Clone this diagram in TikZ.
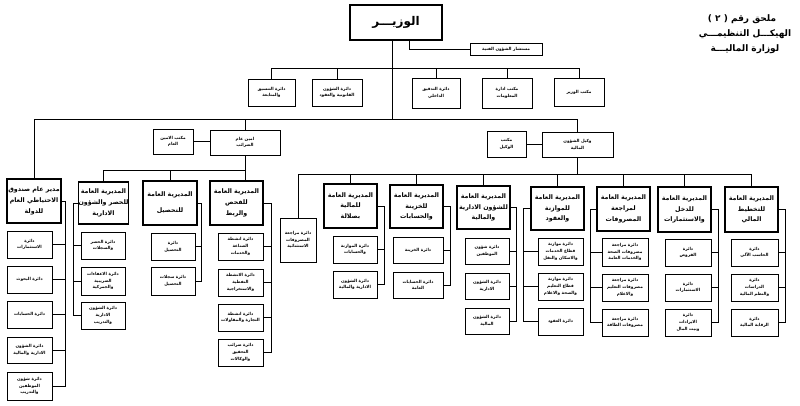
\documentclass[tikz,border=0pt]{standalone}
\usepackage{fontspec}
\newfontfamily\arabicfont[Script=Arabic]{DejaVu Sans}
\TeXXeTstate=1
\newcommand\AR[1]{\beginR#1\endR}
\newcommand\mkbox[7]{%
  \pgfmathsetmacro\bxcx{(#3+#5)/2}\pgfmathsetmacro\bxcy{(#4+#6)/2}%
  \pgfmathsetmacro\bxw{#5-#3}\pgfmathsetmacro\bxh{#6-#4}%
  \node[#1, minimum width=\bxw pt, minimum height=\bxh pt] (#2) at (\bxcx,\bxcy) {#7};}
\tikzset{
  hbox/.style={draw, line width=1.1pt, inner sep=0pt, align=center, font=\arabicfont\bfseries\fontsize{6.3}{10.8}\selectfont},
  sbox/.style={draw, line width=0.8pt, inner sep=0pt, align=center, font=\arabicfont\bfseries\fontsize{4.2}{6.6}\selectfont},
  mbox/.style={draw, line width=1.1pt, inner sep=0pt, align=center, font=\arabicfont\bfseries\fontsize{12}{14}\selectfont},
  conn/.style={line width=0.7pt},
  ttl/.style={inner sep=0pt, font=\arabicfont\bfseries\fontsize{9}{11}\selectfont}
}
\begin{document}
\begin{tikzpicture}[x=1pt,y=-1pt]
\useasboundingbox[fill=white] (0,0) rectangle (800,405);
% title
\node[ttl] (ti1) at (742,19) {\AR{ملحق رقم ( ٢ )}};
\node[ttl] (ti2) at (745,34) {\AR{الهيكـــل التنظيمـــي}};
\node[ttl] (ti3) at (745,49) {\AR{لوزارة الماليـــة}};
% minister
\mkbox{mbox}{m}{350}{5}{442}{40}{\AR{الوزيـــر}}
\mkbox{sbox}{adv}{470}{43}{542}{55}{\AR{مستشار الشؤون الفنية}}
% top row
\mkbox{sbox}{t1}{248}{79}{295}{106}{\AR{دائرة التنسيق}\\\AR{والمتابعة}}
\mkbox{sbox}{t2}{312}{79}{362}{106}{\AR{دائرة الشؤون}\\\AR{القانونية والعقود}}
\mkbox{sbox}{t3}{412}{78}{460}{108}{\AR{دائرة التدقيق}\\\AR{الداخلي}}
\mkbox{sbox}{t4}{482}{78}{532}{108}{\AR{مكتب ادارة}\\\AR{المعلومات}}
\mkbox{sbox}{t5}{554}{78}{604}{106}{\AR{مكتب الوزير}}
% second level
\mkbox{sbox}{sg}{210}{130}{280}{155}{\AR{امين عام}\\\AR{الضرائب}}
\mkbox{sbox}{sgo}{153}{129}{193}{154}{\AR{مكتب الامين}\\\AR{العام}}
\mkbox{sbox}{us}{542}{132}{613}{157}{\AR{وكيل الشؤون}\\\AR{المالية}}
\mkbox{sbox}{uso}{487}{131}{526}{157}{\AR{مكتب}\\\AR{الوكيل}}
% column A fund
\mkbox{hbox}{A0}{7}{179}{61}{223}{\AR{مدير عام صندوق}\\\AR{الاحتياطي العام}\\\AR{للدولة}}
\mkbox{sbox}{A1}{7}{231}{52}{258}{\AR{دائرة}\\\AR{الاستثمارات}}
\mkbox{sbox}{A2}{7}{266}{52}{293}{\AR{دائرة البحوث}}
\mkbox{sbox}{A3}{7}{301}{52}{328}{\AR{دائرة الحسابات}}
\mkbox{sbox}{A4}{7}{337}{52}{363}{\AR{دائرة الشؤون}\\\AR{الادارية والمالية}}
\mkbox{sbox}{A5}{7}{372}{52}{400}{\AR{دائرة شؤون}\\\AR{الموظفين}\\\AR{والتدريب}}
% column B
\mkbox{hbox}{B0}{82}{182}{125}{224}{\AR{المديرية العامة}\\\AR{للحصر والشؤون}\\\AR{الادارية}}
\mkbox{sbox}{B1}{81}{232}{125}{259}{\AR{دائرة الحصر}\\\AR{والسجلات}}
\mkbox{sbox}{B2}{81}{267}{125}{295}{\AR{دائرة الاعفاءات}\\\AR{الضريبية}\\\AR{والجمركية}}
\mkbox{sbox}{B3}{81}{302}{125}{329}{\AR{دائرة الشؤون}\\\AR{الادارية}\\\AR{والتدريب}}
% column C
\mkbox{hbox}{C0}{143}{181}{197}{225}{\AR{المديرية العامة}\\[5pt]\AR{للتحصيل}}
\mkbox{sbox}{C1}{151}{233}{195}{260}{\AR{دائرة}\\\AR{التحصيل}}
\mkbox{sbox}{C2}{151}{267}{195}{295}{\AR{دائرة سجلات}\\\AR{التحصيل}}
% column D
\mkbox{hbox}{D0}{210}{181}{263}{225}{\AR{المديرية العامة}\\\AR{للفحص}\\\AR{والربط}}
\mkbox{sbox}{D1}{218}{233}{263}{260}{\AR{دائرة انشطة}\\\AR{الصناعة}\\\AR{والخدمات}}
\mkbox{sbox}{D2}{218}{269}{263}{296}{\AR{دائرة الانشطة}\\\AR{النفطية}\\\AR{والاستخراجية}}
\mkbox{sbox}{D3}{218}{304}{263}{331}{\AR{دائرة انشطة}\\\AR{التجارة والمقاولات}}
\mkbox{sbox}{D4}{218}{339}{263}{366}{\AR{دائرة ضرائب}\\\AR{التحقيق}\\\AR{والوكالات}}
% column E
\mkbox{sbox}{E0}{280}{218}{316}{262}{\AR{دائرة مراجعة}\\\AR{المصروفات}\\\AR{الاستثنائية}}
% column F
\mkbox{hbox}{F0}{324}{184}{377}{228}{\AR{المديرية العامة}\\\AR{للمالية}\\\AR{بصلالة}}
\mkbox{sbox}{F1}{333}{236}{377}{263}{\AR{دائرة الموازنة}\\\AR{والحسابات}}
\mkbox{sbox}{F2}{333}{271}{377}{298}{\AR{دائرة الشؤون}\\\AR{الادارية والمالية}}
% column G
\mkbox{hbox}{G0}{390}{185}{443}{228}{\AR{المديرية العامة}\\\AR{للخزينة}\\\AR{والحسابات}}
\mkbox{sbox}{G1}{393}{237}{443}{263}{\AR{دائرة الخزينة}}
\mkbox{sbox}{G2}{393}{272}{443}{298}{\AR{دائرة الحسابات}\\\AR{العامة}}
% column H
\mkbox{hbox}{H0}{457}{186}{510}{229}{\AR{المديرية العامة}\\\AR{للشؤون الادارية}\\\AR{والمالية}}
\mkbox{sbox}{H1}{465}{238}{509}{264}{\AR{دائرة شؤون}\\\AR{الموظفين}}
\mkbox{sbox}{H2}{465}{273}{509}{299}{\AR{دائرة الشؤون}\\\AR{الادارية}}
\mkbox{sbox}{H3}{465}{308}{509}{334}{\AR{دائرة الشؤون}\\\AR{المالية}}
% column I
\mkbox{hbox}{I0}{531}{187}{584}{230}{\AR{المديرية العامة}\\\AR{للموازنة}\\\AR{والعقود}}
\mkbox{sbox}{I1}{538}{238}{583}{265}{\AR{دائرة موازنة}\\\AR{قطاع الخدمات}\\\AR{والاسكان والنقل}}
\mkbox{sbox}{I2}{538}{273}{583}{300}{\AR{دائرة موازنة}\\\AR{قطاع التعليم}\\\AR{والصحة والاعلام}}
\mkbox{sbox}{I3}{538}{308}{583}{335}{\AR{دائرة العقود}}
% column J
\mkbox{hbox}{J0}{597}{187}{650}{231}{\AR{المديرية العامة}\\\AR{لمراجعة}\\\AR{المصروفات}}
\mkbox{sbox}{J1}{602}{238}{648}{266}{\AR{دائرة مراجعة}\\\AR{مصروفات الصحة}\\\AR{والخدمات العامة}}
\mkbox{sbox}{J2}{602}{274}{648}{301}{\AR{دائرة مراجعة}\\\AR{مصروفات التعليم}\\\AR{والاعلام}}
\mkbox{sbox}{J3}{602}{309}{648}{336}{\AR{دائرة مراجعة}\\\AR{مصروفات الطاقة}}
% column K
\mkbox{hbox}{K0}{658}{187}{711}{232}{\AR{المديرية العامة}\\\AR{للدخل}\\\AR{والاستثمارات}}
\mkbox{sbox}{K1}{665}{239}{711}{266}{\AR{دائرة}\\\AR{القروض}}
\mkbox{sbox}{K2}{665}{274}{711}{301}{\AR{دائرة}\\\AR{الاستثمارات}}
\mkbox{sbox}{K3}{665}{309}{711}{336}{\AR{دائرة}\\\AR{الايرادات}\\\AR{وبيت المال}}
% column L
\mkbox{hbox}{L0}{725}{187}{778}{232}{\AR{المديرية العامة}\\\AR{للتخطيط}\\\AR{المالي}}
\mkbox{sbox}{L1}{731}{239}{778}{266}{\AR{دائرة}\\\AR{الحاسب الآلي}}
\mkbox{sbox}{L2}{731}{274}{778}{301}{\AR{دائرة}\\\AR{الدراسات}\\\AR{والنظم المالية}}
\mkbox{sbox}{L3}{731}{309}{778}{336}{\AR{دائرة}\\\AR{الرقابة المالية}}
% ---- connectors
\coordinate (ytop) at (0,68);
\coordinate (y2) at (0,119);
\coordinate (y3) at (0,170);
\coordinate (y4) at (0,174);
\coordinate (mx) at (392,0);
\coordinate (ax) at (409,0);
\draw[conn] (m.south -| mx) -- (mx |- y2);
\draw[conn] (m.south -| ax) |- (adv.west);
\draw[conn] (t1.north) -- (t1.north |- ytop) -- (t5.north |- ytop) -- (t5.north);
\foreach \n in {t2,t3,t4} \draw[conn] (\n.north) -- (\n.north |- ytop);
\draw[conn] (A0.north) -- (A0.north |- y2) -- (us.north |- y2) -- (us.north);
\draw[conn] (sg.north) -- (sg.north |- y2);
\draw[conn] (sgo.east) -- (sgo.east -| sg.west);
\draw[conn] (uso.east) -- (uso.east -| us.west);
% tax subtree
\draw[conn] (sg.south) -- (sg.south |- D0.north);
\draw[conn] (B0.north) -- (B0.north |- y3) -- (sg.south |- y3);
\draw[conn] (C0.north) -- (C0.north |- y3);
% undersecretary subtree
\draw[conn] (us.south) -- (us.south |- y4);
\draw[conn] (E0.north) -- (E0.north |- y4) -- (L0.north |- y4) -- (L0.north);
\foreach \n in {F0,G0,H0,I0,J0,K0} \draw[conn] (\n.north) -- (\n.north |- y4);
% brackets (right side)
\coordinate (Ab) at (65,0);
\draw[conn] (A0.east) -- (A0.east -| Ab) -- (A5.east -| Ab) -- (A5.east);
\foreach \i in {1,2,3,4} \draw[conn] (A\i.east) -- (A\i.east -| Ab);
\coordinate (Cb) at (201,0);
\draw[conn] (C0.east) -- (C0.east -| Cb) -- (C2.east -| Cb) -- (C2.east);
\draw[conn] (C1.east) -- (C1.east -| Cb);
\coordinate (Db) at (271,0);
\draw[conn] (D0.east) -- (D0.east -| Db) -- (D4.east -| Db) -- (D4.east);
\foreach \i in {1,2,3} \draw[conn] (D\i.east) -- (D\i.east -| Db);
\coordinate (Fb) at (384,0);
\draw[conn] (F0.east) -- (F0.east -| Fb) -- (F2.east -| Fb) -- (F2.east);
\draw[conn] (F1.east) -- (F1.east -| Fb);
\coordinate (Gb) at (450,0);
\draw[conn] (G0.east) -- (G0.east -| Gb) -- (G2.east -| Gb) -- (G2.east);
\draw[conn] (G1.east) -- (G1.east -| Gb);
\coordinate (Hb) at (516,0);
\draw[conn] (H0.east) -- (H0.east -| Hb) -- (H3.east -| Hb) -- (H3.east);
\foreach \i in {1,2} \draw[conn] (H\i.east) -- (H\i.east -| Hb);
\coordinate (Kb) at (718,0);
\draw[conn] (K0.east) -- (K0.east -| Kb) -- (K3.east -| Kb) -- (K3.east);
\foreach \i in {1,2} \draw[conn] (K\i.east) -- (K\i.east -| Kb);
\coordinate (Lb) at (785,0);
\draw[conn] (L0.east) -- (L0.east -| Lb) -- (L3.east -| Lb) -- (L3.east);
\foreach \i in {1,2} \draw[conn] (L\i.east) -- (L\i.east -| Lb);
% brackets (left side)
\coordinate (Bb) at (73,0);
\draw[conn] (B0.west) -- (B0.west -| Bb) -- (B3.west -| Bb) -- (B3.west);
\foreach \i in {1,2} \draw[conn] (B\i.west) -- (B\i.west -| Bb);
\coordinate (Ib) at (523,0);
\draw[conn] (I0.west) -- (I0.west -| Ib) -- (I3.west -| Ib) -- (I3.west);
\foreach \i in {1,2} \draw[conn] (I\i.west) -- (I\i.west -| Ib);
\coordinate (Jb) at (590,0);
\draw[conn] (J0.west) -- (J0.west -| Jb) -- (J3.west -| Jb) -- (J3.west);
\foreach \i in {1,2} \draw[conn] (J\i.west) -- (J\i.west -| Jb);
\end{tikzpicture}
\end{document}
